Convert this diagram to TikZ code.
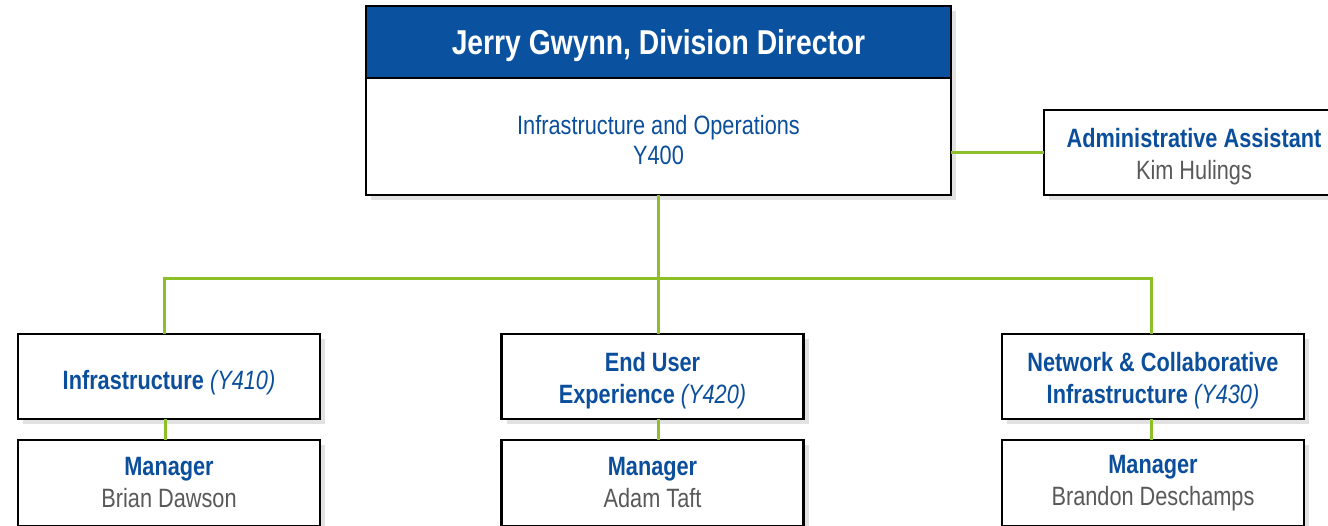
\documentclass[tikz,border=0pt]{standalone}
\usepackage{fontspec}
\setmainfont{Liberation Sans}[FakeStretch=0.82]
\usetikzlibrary{positioning,shadows}
\definecolor{hdrblue}{HTML}{0A519F}
\definecolor{txtblue}{HTML}{0B4F9C}
\definecolor{txtgray}{HTML}{595959}
\definecolor{linkgreen}{HTML}{8CC026}
\newcommand{\role}[1]{{\color{txtblue}\bfseries #1}}
\newcommand{\person}[1]{{\color{txtgray}#1}}
\newcommand{\unitcode}[1]{{\color{txtblue}\itshape #1}}
\tikzset{
  box/.style={draw=black, line width=2.5pt, fill=white, align=flush center,
    text width=285pt, minimum width=302pt, minimum height=85pt,
    inner sep=0pt, outer sep=0pt, font=\fontsize{26.5}{32}\selectfont,
    drop shadow={shadow xshift=5pt, shadow yshift=-5pt, opacity=0.16, fill=black!70}},
  lowered/.style={execute at begin node={\rule{0pt}{#1}}},
  mgrbox/.style={box, minimum height=86pt},
  link/.style={linkgreen, line width=3pt},
}
\begin{document}
\begin{tikzpicture}[x=1pt, y=-1pt]
    \useasboundingbox (0,0) rectangle (1328,525);

    % director
    \node[box, minimum width=585pt, minimum height=189pt, text width=560pt] (dir) at (658.5,100.5) {};
    \node[draw=black, line width=2.5pt, fill=hdrblue, text=white, inner sep=0pt, outer sep=0pt,
          minimum width=585pt, minimum height=72pt, anchor=north, lowered=33pt,
          font=\fontsize{34.5}{40}\selectfont\bfseries] (dirhead) at (dir.north) {Jerry Gwynn, Division Director};
    \node[align=center, text=txtblue, font=\fontsize{26.5}{30}\selectfont] (dirunit) at (658.5,140)
        {Infrastructure and Operations\\ Y400};

    \node[box, lowered=28pt, minimum width=300pt] (admin) at (1194,152.5) {\role{Administrative Assistant}\\ \person{Kim Hulings}};

    % units
    \node[box, lowered=31pt] (infra) at (169,376.5) {\role{Infrastructure} \unitcode{(Y410)}};
    \node[box, lowered=28pt] (enduser) at (652.5,376.5) {\role{End User}\\ \role{Experience} \unitcode{(Y420)}};
    \node[box, lowered=28pt] (network) at (1153,376.5) {\role{Network \& Collaborative}\\ \role{Infrastructure} \unitcode{(Y430)}};

    % managers
    \node[mgrbox, below=21pt of infra] (infraMgr) {\role{Manager}\\ \person{Brian Dawson}};
    \node[mgrbox, below=21pt of enduser] (enduserMgr) {\role{Manager}\\ \person{Adam Taft}};
    \node[mgrbox, below=21pt of network] (networkMgr) {\role{Manager}\\ \person{Brandon Deschamps}};

    \coordinate (bus) at (0,278);
    \draw[link] (dir.east |- admin.west) -- (admin.west);
    \draw[link] (dir.south) -- (dir.south |- enduser.north);
    \draw[link] ([xshift=-5pt]infra.north) -- ([xshift=-5pt]infra.north |- bus)
        -- ([xshift=-2pt]network.north |- bus) -- ([xshift=-2pt]network.north);
    \draw[link] ([xshift=-4pt]infra.south) -- ([xshift=-4pt]infraMgr.north);
    \draw[link] (enduser.south -| dir.south) -- (enduserMgr.north -| dir.south);
    \draw[link] ([xshift=-2pt]network.south) -- ([xshift=-2pt]networkMgr.north);
\end{tikzpicture}
\end{document}
